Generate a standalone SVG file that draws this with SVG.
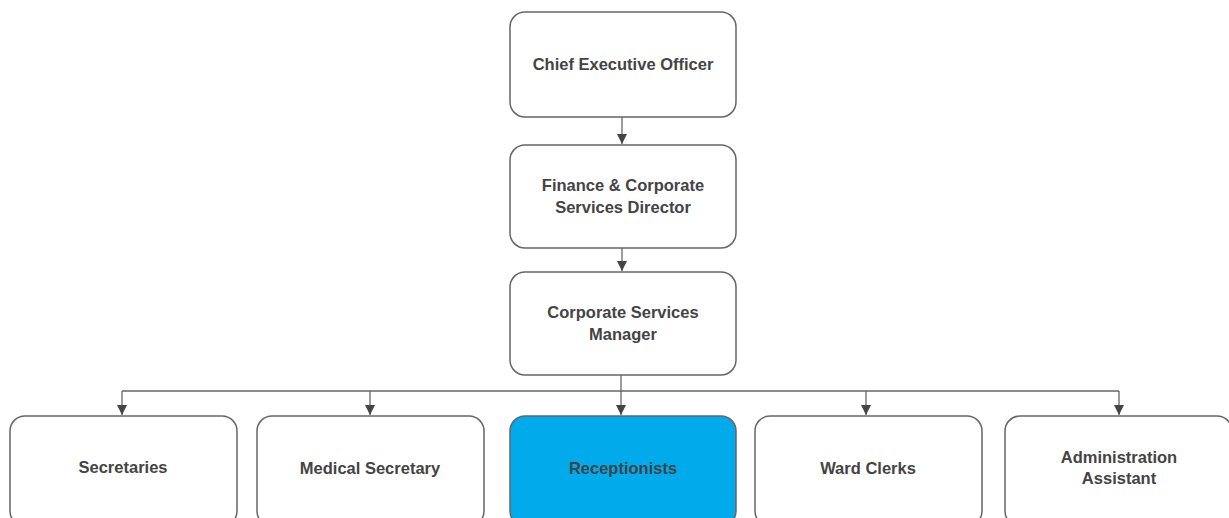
<svg xmlns="http://www.w3.org/2000/svg" width="1229" height="518" viewBox="0 0 1229 518">
<style>
.box{fill:#fff;stroke:#666;stroke-width:1.5}
.hi{fill:#00aaeb}
.t{font-family:"Liberation Sans",Arial,sans-serif;font-weight:bold;font-size:16.5px;fill:#444;text-anchor:middle}
.c{fill:none;stroke:#666;stroke-width:1.3}
</style>
<defs>
<marker id="a" viewBox="0 0 10 10" refX="10" refY="5" markerWidth="10" markerHeight="10" markerUnits="userSpaceOnUse" orient="auto">
<path d="M0,0 L10,5 L0,10 z" fill="#444"/>
</marker>
</defs>
<rect width="1229" height="518" fill="#fff"/>
<g id="connectors">
<path class="c" d="M622,117 V144" marker-end="url(#a)"/>
<path class="c" d="M622,248 V271" marker-end="url(#a)"/>
<path class="c" d="M621,375 V415" marker-end="url(#a)"/>
<path class="c" d="M122,391 H1119"/>
<path class="c" d="M122,391 V415" marker-end="url(#a)"/>
<path class="c" d="M370,391 V415" marker-end="url(#a)"/>
<path class="c" d="M866,391 V415" marker-end="url(#a)"/>
<path class="c" d="M1119,391 V415" marker-end="url(#a)"/>
</g>
<g id="ceo"><rect class="box" x="510" y="12" width="226" height="105" rx="15"/><text class="t" x="623" y="70">Chief Executive Officer</text></g>
<g id="fin"><rect class="box" x="510" y="145" width="226" height="103" rx="15"/><text class="t" x="623" y="191">Finance &amp; Corporate</text><text class="t" x="623" y="213">Services Director</text></g>
<g id="csm"><rect class="box" x="510" y="272" width="226" height="103" rx="15"/><text class="t" x="623" y="318">Corporate Services</text><text class="t" x="623" y="340">Manager</text></g>
<g id="sec"><rect class="box" x="10" y="416" width="227" height="110" rx="15"/><text class="t" x="123" y="473">Secretaries</text></g>
<g id="med"><rect class="box" x="257" y="416" width="227" height="110" rx="15"/><text class="t" x="370" y="474">Medical Secretary</text></g>
<g id="rec"><rect class="box hi" x="510" y="416" width="226" height="110" rx="15"/><text class="t" x="623" y="474">Receptionists</text></g>
<g id="ward"><rect class="box" x="755" y="416" width="227" height="110" rx="15"/><text class="t" x="868" y="474">Ward Clerks</text></g>
<g id="adm"><rect class="box" x="1005" y="416" width="227" height="110" rx="15"/><text class="t" x="1119" y="463">Administration</text><text class="t" x="1119" y="484">Assistant</text></g>
</svg>
